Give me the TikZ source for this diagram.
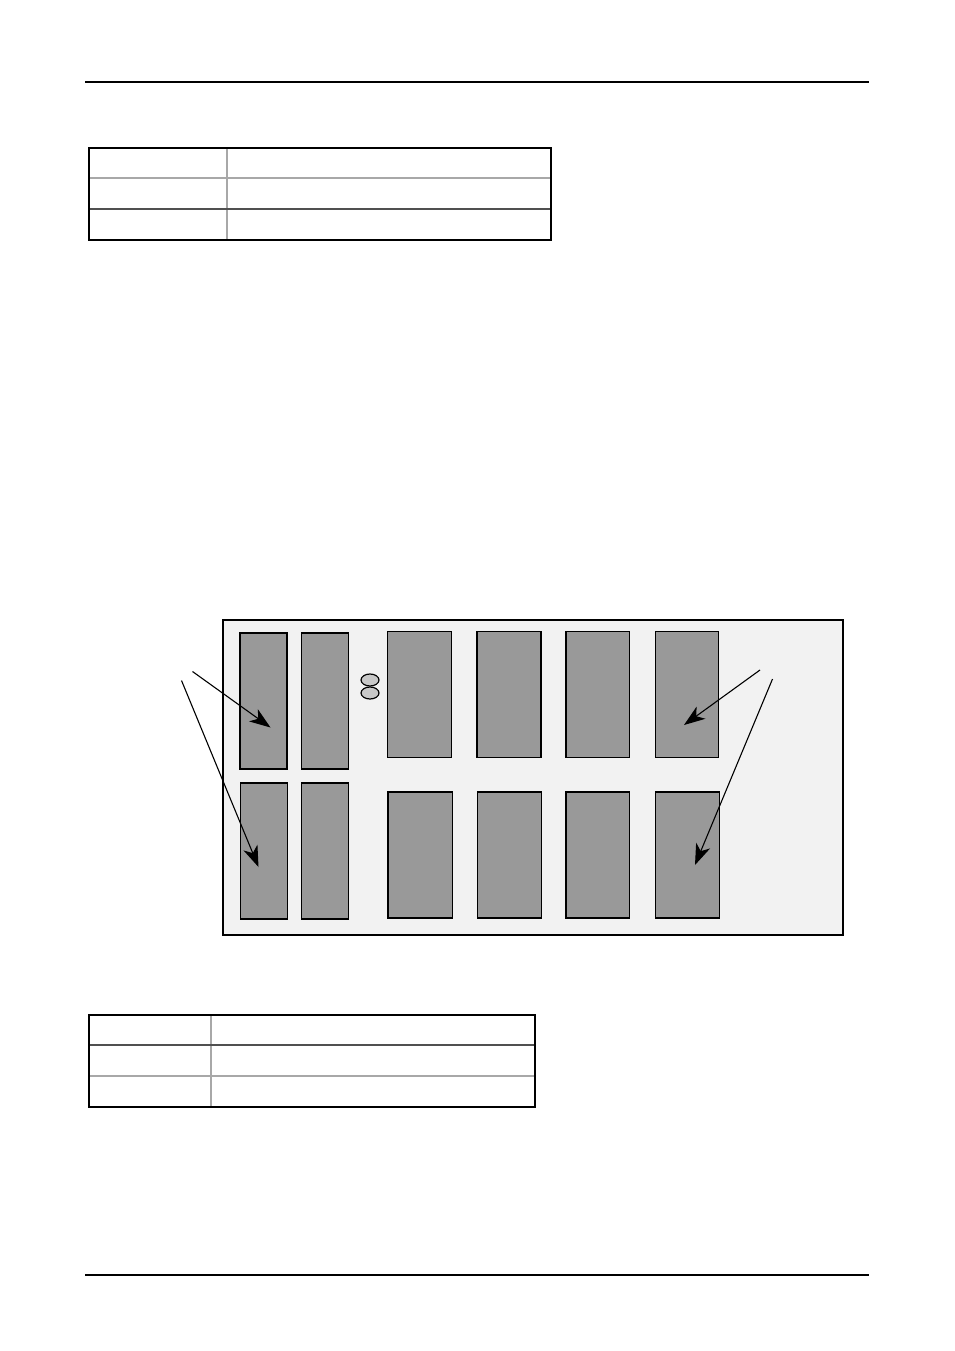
\documentclass[tikz,border=0pt]{standalone}
\usetikzlibrary{arrows.meta}
\definecolor{boardbg}{HTML}{F2F2F2}
\definecolor{chip}{HTML}{999999}
\definecolor{led}{HTML}{C8C8C8}
\definecolor{lightrule}{HTML}{A8A8A8}
\definecolor{darkrule}{HTML}{505050}
\tikzset{
  rulebar/.style={line width=1.4pt, black},
  tabframe/.style={line width=1.8pt, black},
  lightline/.style={line width=1.2pt, lightrule},
  darkline/.style={line width=1.2pt, darkrule},
  board/.style={draw=black, fill=boardbg, line width=1.4pt},
  slot/.style={draw=black, fill=chip, line width=1.6pt},
  ledshape/.style={draw=black, fill=led, line width=1.2pt},
  pointer/.style={line width=1.1pt, -{Stealth[length=21pt,width=15pt,inset=6pt]}},
}
\begin{document}
\begin{tikzpicture}[x=1pt,y=-1pt]
\useasboundingbox (0,0) rectangle (954,1351);
% page rules
\draw[rulebar] (85,82) -- (869,82);
\draw[rulebar] (85,1275) -- (869,1275);
% table 1
\draw[lightline] (227,148) -- (227,240);
\draw[lightline] (89,178) -- (551,178);
\draw[darkline] (89,209) -- (551,209);
\draw[tabframe] (89,148) rectangle (551,240);
% table 2
\draw[lightline] (211,1015) -- (211,1107);
\draw[darkline] (89,1045) -- (535,1045);
\draw[lightline] (89,1076) -- (535,1076);
\draw[tabframe] (89,1015) rectangle (535,1107);
% board
\draw[board] (223,620) rectangle (843,935);
% small slots
\draw[slot] (240,633) rectangle (287,769);
\draw[slot] (301.5,633) rectangle (348.5,769);
\draw[slot] (240.5,783) rectangle (287.5,919);
\draw[slot] (301.5,783) rectangle (348.5,919);
% large slots, top row
\draw[slot] (387.5,631.5) rectangle (451.5,757.5);
\draw[slot] (477,631.5) rectangle (541,757.5);
\draw[slot] (566,631.5) rectangle (629.5,757.5);
\draw[slot] (655.5,631.5) rectangle (718.5,757.5);
% large slots, bottom row
\draw[slot] (388,792) rectangle (452.5,918);
\draw[slot] (477.5,792) rectangle (541.5,918);
\draw[slot] (566,792) rectangle (629.5,918);
\draw[slot] (655.5,792) rectangle (719.5,918);
% leds
\draw[ledshape] (370,680) ellipse [x radius=9, y radius=6];
\draw[ledshape] (370,693) ellipse [x radius=9, y radius=6];
% arrows
\coordinate (la1) at (192.5,671.5);
\coordinate (lt1) at (270.5,727.5);
\coordinate (la2) at (181.5,680.5);
\coordinate (lt2) at (258.5,867);
\coordinate (ra1) at (760,670);
\coordinate (rt1) at (684,725);
\coordinate (ra2) at (772.5,679);
\coordinate (rt2) at (695,865);
\draw[pointer] (la1) -- (lt1);
\draw[pointer] (la2) -- (lt2);
\draw[pointer] (ra1) -- (rt1);
\draw[pointer] (ra2) -- (rt2);
\end{tikzpicture}
\end{document}
